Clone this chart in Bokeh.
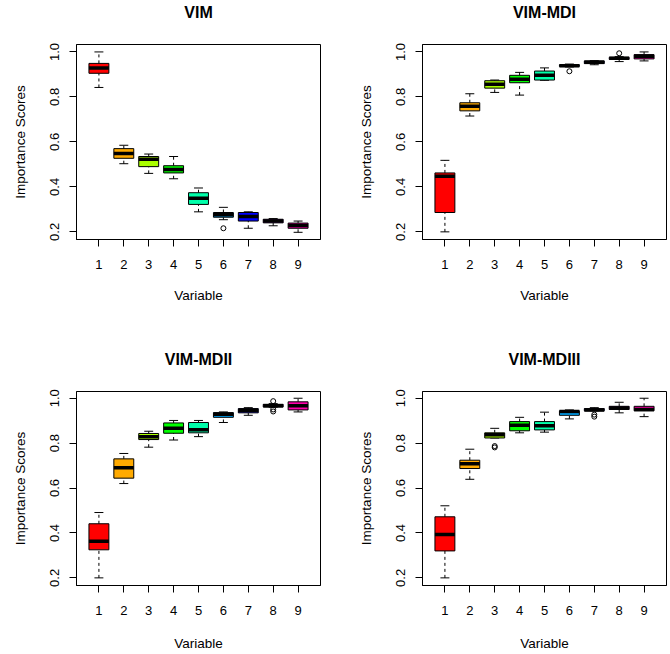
from bokeh.plotting import figure
from bokeh.layouts import column, row
from bokeh.models import Range1d, FixedTicker, PrintfTickFormatter, ColumnDataSource, LinearAxis
from bokeh.embed import file_html
from bokeh.resources import INLINE

# ---------------- data ----------------
variables = [1, 2, 3, 4, 5, 6, 7, 8, 9]
x_tick_labels = ["1", "2", "3", "4", "5", "6", "7", "8", "9"]
y_ticks = [0.2, 0.4, 0.6, 0.8, 1.0]
box_colors = ["#FF0000", "#FFAA00", "#AAFF00", "#00FF00", "#00FFAA",
              "#00AAFF", "#0000FF", "#AA00FF", "#FF00AA"]
titles = ["VIM", "VIM-MDI", "VIM-MDII", "VIM-MDIII"]

# VIM
vim_upper = [1.000, 0.585, 0.546, 0.535, 0.395, 0.309, 0.289, 0.259, 0.248]
vim_q3    = [0.949, 0.570, 0.535, 0.494, 0.374, 0.286, 0.286, 0.256, 0.239]
vim_med   = [0.929, 0.548, 0.523, 0.477, 0.349, 0.276, 0.268, 0.248, 0.228]
vim_q1    = [0.905, 0.527, 0.490, 0.462, 0.322, 0.265, 0.248, 0.240, 0.216]
vim_lower = [0.842, 0.503, 0.460, 0.436, 0.289, 0.254, 0.216, 0.227, 0.198]
vim_out_x = [6]
vim_out_y = [0.216]

# VIM-MDI
mdi_upper = [0.518, 0.814, 0.875, 0.909, 0.929, 0.946, 0.961, 0.979, 1.000]
mdi_q3    = [0.462, 0.774, 0.872, 0.896, 0.915, 0.943, 0.960, 0.976, 0.988]
mdi_med   = [0.447, 0.759, 0.856, 0.878, 0.896, 0.939, 0.954, 0.972, 0.981]
mdi_q1    = [0.286, 0.738, 0.839, 0.863, 0.875, 0.935, 0.948, 0.967, 0.969]
mdi_lower = [0.200, 0.715, 0.820, 0.808, 0.874, 0.933, 0.943, 0.957, 0.960]
mdi_out_x = [6, 8]
mdi_out_y = [0.914, 0.994]

# VIM-MDII
mdii_upper = [0.491, 0.754, 0.853, 0.901, 0.901, 0.939, 0.958, 0.976, 1.000]
mdii_q3    = [0.441, 0.730, 0.843, 0.890, 0.892, 0.936, 0.954, 0.973, 0.984]
mdii_med   = [0.363, 0.690, 0.829, 0.866, 0.860, 0.929, 0.945, 0.967, 0.966]
mdii_q1    = [0.325, 0.644, 0.816, 0.844, 0.846, 0.915, 0.935, 0.961, 0.948]
mdii_lower = [0.200, 0.620, 0.782, 0.814, 0.829, 0.892, 0.924, 0.960, 0.939]
mdii_out_x = [8, 8, 8]
mdii_out_y = [0.987, 0.950, 0.941]

# VIM-MDIII
mdiii_upper = [0.521, 0.773, 0.866, 0.915, 0.938, 0.948, 0.958, 0.982, 1.000]
mdiii_q3    = [0.472, 0.724, 0.846, 0.896, 0.896, 0.944, 0.954, 0.964, 0.964]
mdiii_med   = [0.393, 0.708, 0.837, 0.880, 0.877, 0.941, 0.948, 0.957, 0.950]
mdiii_q1    = [0.320, 0.687, 0.823, 0.855, 0.859, 0.924, 0.944, 0.950, 0.944]
mdiii_lower = [0.200, 0.639, 0.823, 0.846, 0.849, 0.908, 0.944, 0.935, 0.918]
mdiii_out_x = [3, 3, 7, 7]
mdiii_out_y = [0.787, 0.781, 0.927, 0.918]

FONT = "Liberation Sans"
BOX_W = 0.8
CAP_HALF = 0.18


def make_panel(title, lower, q1, med, q3, upper, out_x, out_y, left_col, top_row):
    frame_w = 244
    frame_h = 195 if top_row else 194
    mb_left = 76 if left_col else 86
    mb_right = 16 if left_col else 3
    mb_top = 44 if top_row else 61
    mb_bottom = 91 if top_row else 68
    width = mb_left + frame_w + mb_right
    height = mb_top + frame_h + mb_bottom

    p = figure(width=width, height=height, output_backend="svg", toolbar_location=None,
               x_range=Range1d(0.1, 9.9),
               y_range=Range1d(0.166, 1.033 if top_row else 1.030),
               min_border_left=mb_left, min_border_right=mb_right,
               min_border_top=mb_top, min_border_bottom=mb_bottom,
               tools="")
    p.grid.visible = False
    p.outline_line_color = "black"
    p.outline_line_width = 1
    p.background_fill_color = "white"
    p.border_fill_color = "white"

    # panel title (drawn as the label of a bare axis above the frame)
    title_axis = LinearAxis(ticker=FixedTicker(ticks=[]), axis_line_color=None,
                            major_tick_out=0, major_tick_in=0, minor_tick_out=0,
                            minor_tick_in=0, major_label_standoff=0,
                            axis_label=title, axis_label_text_font=FONT,
                            axis_label_text_font_size="16px",
                            axis_label_text_font_style="bold",
                            axis_label_text_color="black",
                            axis_label_standoff=24 if top_row else 24)
    p.add_layout(title_axis, "above")

    src = ColumnDataSource(dict(
        x=variables, lower=lower, q1=q1, med=med, q3=q3, upper=upper, color=box_colors,
        cx0=[v - CAP_HALF for v in variables], cx1=[v + CAP_HALF for v in variables],
        mx0=[v - BOX_W / 2 for v in variables], mx1=[v + BOX_W / 2 for v in variables],
    ))
    # whiskers (dashed)
    p.segment(x0="x", y0="q3", x1="x", y1="upper", source=src, line_color="black",
              line_width=1, line_dash="3 3")
    p.segment(x0="x", y0="lower", x1="x", y1="q1", source=src, line_color="black",
              line_width=1, line_dash="3 3")
    # staples
    p.segment(x0="cx0", y0="upper", x1="cx1", y1="upper", source=src, line_color="black", line_width=1)
    p.segment(x0="cx0", y0="lower", x1="cx1", y1="lower", source=src, line_color="black", line_width=1)
    # boxes
    p.vbar(x="x", width=BOX_W, bottom="q1", top="q3", source=src, fill_color="color",
           line_color="black", line_width=1)
    # medians
    p.segment(x0="mx0", y0="med", x1="mx1", y1="med", source=src, line_color="black",
              line_width=3.5, line_cap="butt")
    # outliers
    p.scatter(x=out_x, y=out_y, marker="circle", size=5, fill_color=None,
              line_color="black", line_width=1)

    # axes
    for ax in (p.below[0], p.left[0]):
        ax.axis_line_color = "black"
        ax.major_tick_line_color = "black"
        ax.major_tick_out = 7
        ax.major_tick_in = 0
        ax.minor_tick_line_color = None
        ax.major_label_text_font = FONT
        ax.major_label_text_font_size = "13px"
        ax.major_label_text_color = "black"
        ax.axis_label_text_font = FONT
        ax.axis_label_text_font_size = "13.5px"
        ax.axis_label_text_font_style = "normal"
        ax.axis_label_text_color = "black"

    xa = p.below[0]
    xa.ticker = FixedTicker(ticks=variables)
    xa.major_label_overrides = {v: s for v, s in zip(variables, x_tick_labels)}
    xa.major_label_standoff = 13
    xa.axis_label = "Variable"
    xa.axis_label_standoff = 16 if top_row else 18

    ya = p.left[0]
    ya.ticker = FixedTicker(ticks=y_ticks)
    ya.formatter = PrintfTickFormatter(format="%.1f")
    ya.major_label_orientation = "parallel"
    ya.major_label_standoff = 10
    ya.axis_label = "Importance Scores"
    ya.axis_label_standoff = 20
    return p


p1 = make_panel(titles[0], vim_lower, vim_q1, vim_med, vim_q3, vim_upper, vim_out_x, vim_out_y, True, True)
p2 = make_panel(titles[1], mdi_lower, mdi_q1, mdi_med, mdi_q3, mdi_upper, mdi_out_x, mdi_out_y, False, True)
p3 = make_panel(titles[2], mdii_lower, mdii_q1, mdii_med, mdii_q3, mdii_upper, mdii_out_x, mdii_out_y, True, False)
p4 = make_panel(titles[3], mdiii_lower, mdiii_q1, mdiii_med, mdiii_q3, mdiii_upper, mdiii_out_x, mdiii_out_y, False, False)

layout = column(row(p1, p2), row(p3, p4))

open("out.html", "w").write(file_html(layout, INLINE))
